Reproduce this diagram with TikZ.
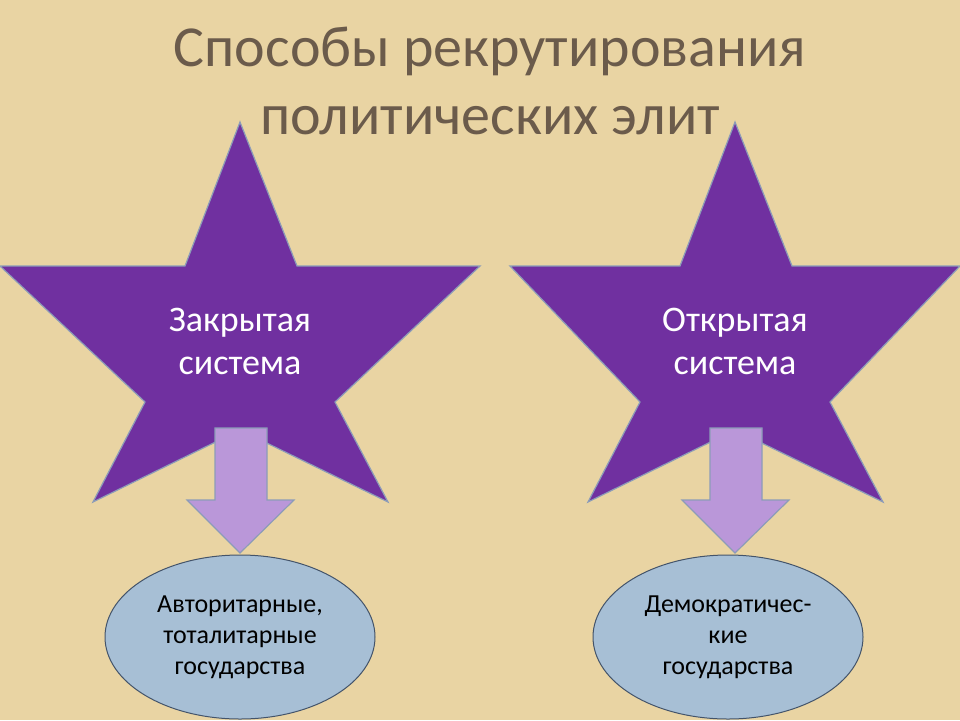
\documentclass[tikz,border=0pt]{standalone}
\usepackage{fontspec}
\setmainfont{Carlito}
\definecolor{bg}{HTML}{E9D4A3}
\definecolor{starf}{HTML}{7030A0}
\definecolor{stard}{HTML}{8C9CB8}
\definecolor{arrf}{HTML}{BA97D9}
\definecolor{ellf}{HTML}{A7BFD5}
\definecolor{elld}{HTML}{44546A}
\definecolor{titc}{HTML}{6B5B4B}
\tikzset{
 starsh/.style={fill=starf,draw=stard,line width=1.2pt},
 arrsh/.style={fill=arrf,draw=stard,line width=1.2pt},
 ellsh/.style={ellipse,fill=ellf,draw=elld,line width=1pt,minimum width=270pt,minimum height=164pt,align=center,font=\fontsize{26}{31}\selectfont},
 startext/.style={text=white,align=center,font=\fontsize{36}{43}\selectfont},
}
\usetikzlibrary{shapes.geometric}
\begin{document}
\begin{tikzpicture}[x=1pt,y=-1pt]
\fill[bg] (0,0) rectangle (960,720);
\useasboundingbox (0,0) rectangle (960,720);
\foreach \cx/\lw/\rw in {240/240/240,735/225/225}{
 \draw[starsh] (\cx,122) -- (\cx+57,266) -- (\cx+\rw,266) -- (\cx+95,402) -- (\cx+148,502) -- (\cx,430) -- (\cx-147,502) -- (\cx-95,402) -- (\cx-\lw,266) -- (\cx-55,266) -- cycle;
 \draw[arrsh] (\cx-25,428) -- (\cx+27,428) -- (\cx+27,500) -- (\cx+54,500) -- (\cx,553) -- (\cx-53,500) -- (\cx-25,500) -- cycle;
}
\node[font=\fontsize{58}{68}\selectfont,text=titc,align=center] (title) at (490,81) {Способы рекрутирования\\политических элит};
\node[startext] (s1) at (240,341) {Закрытая\\система};
\node[startext] (s2) at (735,341) {Открытая\\система};
\node[ellsh] (e1) at (240,637) {Авторитарные,\\тоталитарные\\государства};
\node[ellsh] (e2) at (728,637) {Демократичес-\\кие\\государства};
\end{tikzpicture}
\end{document}
